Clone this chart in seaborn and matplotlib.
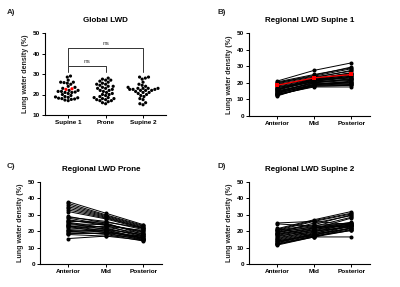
import matplotlib
matplotlib.use("Agg")
import matplotlib.pyplot as plt
import seaborn as sns
import pandas as pd
import numpy as np

sns.set_theme(style="ticks")
plt.rcParams['font.family'] = ['Liberation Sans', 'DejaVu Sans']
plt.rcParams['font.weight'] = 'bold'

# ---------------- data ----------------
groups_A = ["Supine 1", "Prone", "Supine 2"]
supine1_global = [17, 17.3, 17.6, 17.8, 18, 18.2, 18.4, 18.6, 18.8, 19, 19.5,
                  20, 20.5, 21, 21, 21.2, 21.5, 21.5, 22, 22, 23, 23.5, 24, 25, 25.5, 25.8,
                  26, 26, 27, 28.5, 29]
supine1_red = [22.5, 22.8]
prone_global = [15.5, 16, 16.5, 17, 17, 17.5, 17.5, 18, 18, 18.5, 18.5, 19, 19.5, 20, 20,
                20.5, 21, 21.5, 22, 22, 22.5, 23, 23, 23.5, 24, 24, 24.5, 25, 25, 25.5,
                26, 26.5, 27, 27, 27.5, 28]
supine2_global = [15, 15.5, 16, 17.5, 18, 19, 19.5, 20, 20.5, 21, 21, 21.5, 22, 22, 22,
                  22.5, 22.5, 22.5, 23, 23, 23, 23, 23.5, 24, 24.5, 25, 26, 27.5, 28, 28.5, 28.5]

regions = ["Anterior", "Mid", "Posterior"]

B_ant = [21, 20.5, 20, 19.5, 19, 18, 17.5, 17, 16.5, 16, 15.5, 15, 15, 14.5, 14, 14, 13.5, 13, 13,
         12.5, 12, 20, 18.5, 16, 14.5, 13.5, 15.5, 17, 12.5, 19]
B_mid = [27.5, 25, 24, 23.5, 22.5, 22, 21.5, 21, 20.5, 22, 21, 20, 19.5, 19, 20.5, 18.5, 19, 18,
         17.5, 18.5, 19, 24.5, 23, 21, 20, 19, 22.5, 21.5, 18, 22]
B_post = [32, 29, 28.5, 27, 26, 25.5, 24, 23, 22, 24.5, 23.5, 21.5, 20.5, 20, 22, 19, 21, 18.5,
          17.5, 19.5, 20, 29.5, 27.5, 24, 22.5, 20.5, 26, 25, 18.5, 23]
B_red = [18.5, 23, 25]

C_ant = [38, 37, 36, 35, 34, 33, 32, 29, 28.5, 28, 27, 26, 25.5, 25, 24.5, 24, 23.5, 23, 23, 22.5,
         22, 21, 20.5, 20, 19.5, 19, 18.5, 18, 15.5, 26.5]
C_mid = [31, 30, 29.5, 29, 28.5, 28, 27.5, 25, 26, 24, 23.5, 25.5, 22, 21, 24, 22.5, 20, 21.5, 19,
         23, 20.5, 20, 19.5, 18, 21, 18.5, 19, 17, 17, 24.5]
C_post = [24, 23.5, 23, 22.5, 22, 22, 21.5, 18, 21, 20, 17, 22, 16.5, 15.5, 19.5, 18.5, 15, 17.5,
          14.5, 20.5, 16, 15.5, 16, 14, 18, 15, 17, 14.5, 17, 19]

D_ant = [25, 24.5, 21.5, 21, 20.5, 20, 19.5, 19, 18.5, 18, 17.5, 17, 16, 15, 14.5, 14, 13.5, 13,
         12.5, 12, 11.5, 20.5, 19, 16.5, 15.5, 13, 14, 18, 12, 22]
D_mid = [26, 23, 27, 26.5, 24, 23.5, 22.5, 25, 22, 21.5, 21, 20.5, 20, 19.5, 19, 18.5, 18, 17.5,
         17, 16.5, 16.5, 26, 23, 21, 20, 18.5, 17.5, 22, 17, 16.5]
D_post = [24, 23, 32, 31, 30, 25, 24.5, 29.5, 23.5, 28, 25, 24, 22.5, 25, 23, 24, 22, 23.5, 21,
          22, 20.5, 30.5, 28.5, 24.5, 23, 21.5, 22, 25.5, 20.5, 16.5]

titles = ["Global LWD", "Regional LWD Supine 1", "Regional LWD Prone", "Regional LWD Supine 2"]
letters = ["A)", "B)", "C)", "D)"]
ylabel = "Lung water density (%)"

# ---------------- figure ----------------
W, H = 400, 287
fig = plt.figure(figsize=(4.0, 2.87), dpi=100)
fig.patch.set_facecolor("white")


def ax_px(l, r, t, b):
    return fig.add_axes([l / W, 1 - b / H, (r - l) / W, (b - t) / H])


FS = 4.6


def style(ax, ylim, yticks):
    sns.despine(ax=ax)
    for s in ["left", "bottom"]:
        ax.spines[s].set_linewidth(0.8)
        ax.spines[s].set_color("black")
    ax.set_ylim(*ylim)
    ax.set_yticks(yticks)
    ax.tick_params(axis="both", length=2.2, width=0.7, pad=1.5, labelsize=FS, colors="black")
    for lab in ax.get_xticklabels() + ax.get_yticklabels():
        lab.set_fontweight("bold")
    ax.set_xlabel("")
    ax.set_ylabel(ylabel, fontsize=FS + 0.5, fontweight="bold", labelpad=3)
    ax.set_facecolor("white")


# Panel A
axA = ax_px(45, 165.5, 33, 115)
dfA = pd.DataFrame({
    "group": ["Supine 1"] * len(supine1_global) + ["Supine 1"] * len(supine1_red)
             + ["Prone"] * len(prone_global) + ["Supine 2"] * len(supine2_global),
    "lwd": supine1_global + supine1_red + prone_global + supine2_global,
    "hl": ["n"] * len(supine1_global) + ["r"] * len(supine1_red)
          + ["n"] * (len(prone_global) + len(supine2_global)),
})
sns.swarmplot(data=dfA, x="group", y="lwd", hue="hl", order=groups_A,
              palette={"n": "black", "r": "red"}, size=2.3, linewidth=0, ax=axA,
              legend=False, dodge=False)
axA.set_xlim(-0.62, 2.6)
style(axA, (10, 50), [10, 20, 30, 40, 50])
# significance brackets
bc = "#333333"
axA.plot([0, 0, 1, 1], [31, 34, 34, 31], color=bc, lw=0.7)
axA.plot([0, 0, 2, 2], [34, 42.5, 42.5, 31], color=bc, lw=0.7)
axA.text(0.5, 35, "ns", ha="center", va="bottom", fontsize=FS, color=bc, fontweight="normal")
axA.text(1.0, 43.5, "ns", ha="center", va="bottom", fontsize=FS, color=bc, fontweight="normal")


def regional(ax, ant, mid, post, red=None):
    n = len(ant)
    df = pd.DataFrame({
        "subject": np.repeat(np.arange(n), 3),
        "region": regions * n,
        "lwd": [v for trip in zip(ant, mid, post) for v in trip],
    })
    sns.lineplot(data=df, x="region", y="lwd", units="subject", estimator=None,
                 color="black", lw=0.7, marker="o", markersize=2.9, markeredgewidth=0,
                 ax=ax, sort=False)
    if red is not None:
        dfr = pd.DataFrame({"region": regions, "lwd": red})
        sns.lineplot(data=dfr, x="region", y="lwd", color="red", lw=0.9, marker="s",
                     markersize=2.8, markeredgewidth=0, ax=ax, sort=False)
    ax.set_xlim(-0.75, 2.5)
    style(ax, (0, 50), [0, 10, 20, 30, 40, 50])


axB = ax_px(249, 370, 33, 116)
regional(axB, B_ant, B_mid, B_post, B_red)
axC = ax_px(40, 162, 182, 264)
regional(axC, C_ant, C_mid, C_post)
axD = ax_px(249, 370, 182, 264)
regional(axD, D_ant, D_mid, D_post)

for ax, t in zip([axA, axB, axC, axD], titles):
    ax.set_title(t, fontsize=FS + 1.2, fontweight="bold", pad=8, color="black")

for (x, y), l in zip([(7, 13), (217, 13), (7, 167), (217, 167)], letters):
    fig.text(x / W, 1 - y / H, l, fontsize=FS + 1.2, fontweight="bold", va="center", ha="left")

fig.savefig("out.png", dpi=100, facecolor="white")
